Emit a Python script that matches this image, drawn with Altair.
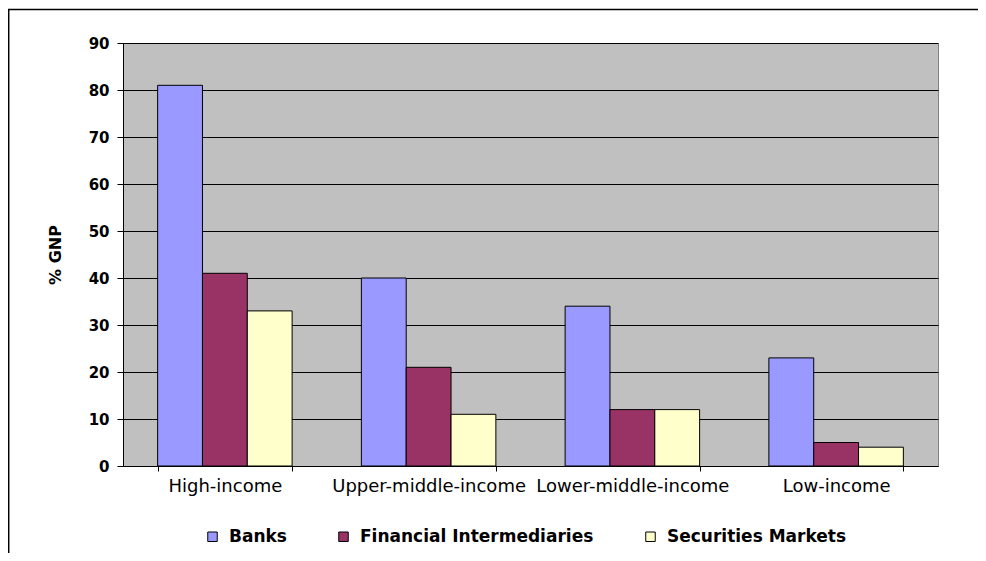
import altair as alt
import pandas as pd

categories = ["High-income", "Upper-middle-income", "Lower-middle-income", "Low-income"]
series = ["Banks", "Financial Intermediaries", "Securities Markets"]
banks = [81, 40, 34, 23]
fin_inter = [41, 21, 12, 5]
securities = [33, 11, 12, 4]
y_ticks = [0, 10, 20, 30, 40, 50, 60, 70, 80, 90]
colors = ["#9999FF", "#993366", "#FFFFCC"]

rows = []
for i, c in enumerate(categories):
    for s, vals in zip(series, [banks, fin_inter, securities]):
        rows.append({"Income": c, "Series": s, "Value": vals[i]})
df = pd.DataFrame(rows)

bars = alt.Chart(df).mark_bar(stroke="black", strokeWidth=1).encode(
    x=alt.X("Income:N", sort=categories, title=None,
            scale=alt.Scale(paddingInner=0.34, paddingOuter=0.17),
            axis=alt.Axis(labelAngle=0, labelFont="DejaVu Sans", labelFontSize=18,
                          labelColor="black", labelPadding=6, labelLimit=0,
                          tickBand="extent",
                          tickColor="black", tickSize=5, domainColor="black",
                          grid=False)),
    xOffset=alt.XOffset("Series:N", sort=series),
    y=alt.Y("Value:Q", title="% GNP",
            scale=alt.Scale(domain=[0, 90], nice=False),
            axis=alt.Axis(values=y_ticks, labelFont="DejaVu Sans", labelFontWeight="bold",
                          labelFontSize=15, labelColor="black", labelPadding=8,
                          tickColor="black", tickSize=6, domainColor="black",
                          gridColor="black", gridWidth=1, gridOpacity=1,
                          titleFont="DejaVu Sans", titleFontSize=16, titleFontWeight="bold",
                          titleColor="black", titlePadding=25)),
    color=alt.Color("Series:N", sort=series,
                    scale=alt.Scale(domain=series, range=colors),
                    legend=alt.Legend(title=None, orient="none", direction="horizontal",
                                      legendX=81, legendY=485, symbolType="square",
                                      symbolSize=90, symbolStrokeColor="black",
                                      symbolStrokeWidth=1, labelFont="DejaVu Sans",
                                      labelFontWeight="bold", labelFontSize=17,
                                      labelColor="black", labelOffset=8, labelLimit=0,
                                      columnPadding=48, padding=0)),
)

frame = pd.DataFrame({"k": [0]})
top_line = alt.Chart(frame).mark_rule(color="black", strokeWidth=1.5).encode(
    x=alt.value(-115), x2=alt.value(860), y=alt.value(-33.5))
left_line = alt.Chart(frame).mark_rule(color="black", strokeWidth=1.5).encode(
    x=alt.value(-114.3), y=alt.value(-33.5), y2=alt.value(520))

chart = alt.layer(bars, top_line, left_line).properties(
    width=815, height=423,
    autosize=alt.AutoSizeParams(type="none"),
    padding={"left": 115, "top": 35, "right": 40, "bottom": 87},
    background="white",
).configure_view(fill="#C0C0C0", stroke="#808080", strokeWidth=1)

chart.save("out.html", embed_options={"renderer": "svg", "actions": False})
